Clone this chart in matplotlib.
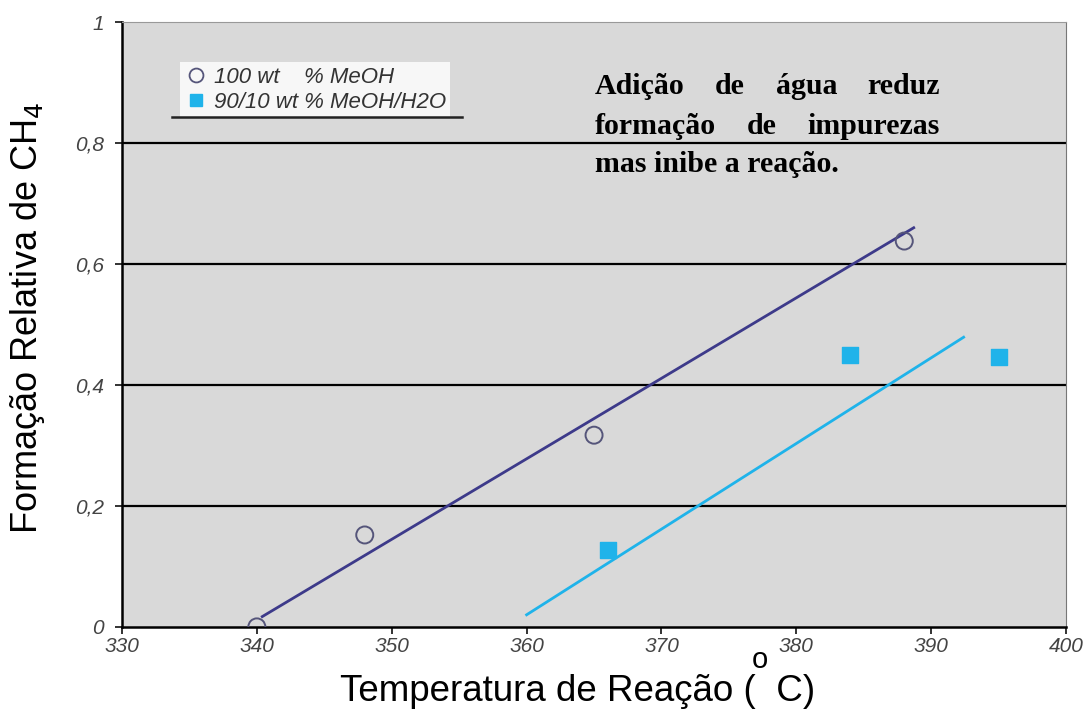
import matplotlib
matplotlib.use("Agg")
import matplotlib.pyplot as plt
from matplotlib.lines import Line2D

plt.rcParams['font.family'] = ['Liberation Sans', 'DejaVu Sans']

# data
t_meoh = [340, 348, 365, 388]
f_meoh = [0.0, 0.152, 0.317, 0.638]
t_h2o = [366, 384, 395]
f_h2o = [0.127, 0.45, 0.446]
# trend lines (end points)
fit_meoh_t = [340.4, 388.7]
fit_meoh_f = [0.017, 0.66]
fit_h2o_t = [360.0, 392.4]
fit_h2o_f = [0.02, 0.479]

xticks = [330, 340, 350, 360, 370, 380, 390, 400]
yticks = [0, 0.2, 0.4, 0.6, 0.8, 1]
ylabels = ['0', '0,2', '0,4', '0,6', '0,8', '1']

navy = '#3d3a8a'
cyan = '#1fb3ea'

fig = plt.figure(figsize=(10.89, 7.14), dpi=100)
ax = fig.add_axes([0.112, 0.122, 0.867, 0.847])
ax.set_facecolor('#d9d9d9')

for y in yticks[1:-1]:
    ax.axhline(y, color='black', lw=1.6, zorder=1)

ax.plot(fit_meoh_t, fit_meoh_f, color=navy, lw=2, zorder=2)
ax.plot(fit_h2o_t, fit_h2o_f, color=cyan, lw=2, zorder=2)
ax.scatter(t_meoh, f_meoh, s=150, facecolors='none', edgecolors='#55557a', linewidths=1.4, zorder=3)
ax.scatter(t_h2o, f_h2o, s=120, marker='s', color=cyan, zorder=3)

ax.set_xlim(330, 400)
ax.set_ylim(0, 1)
ax.set_xticks(xticks)
ax.set_yticks(yticks)
ax.set_yticklabels(ylabels)
ax.tick_params(labelsize=15, colors='#333333', length=5, width=1.4)
ax.tick_params(axis='x', pad=2)
ax.tick_params(axis='y', pad=8)
for lab in ax.get_xticklabels() + ax.get_yticklabels():
    lab.set_style('italic')
    lab.set_color('#444444')

ax.spines['left'].set_linewidth(1.8)
ax.spines['bottom'].set_linewidth(1.8)
ax.spines['right'].set_color('#777777')
ax.spines['top'].set_color('#999999')

fig.text(28 / 1089, 1 - 318 / 714, 'Formação Relativa de CH$_4$', fontsize=26,
         rotation=90, ha='center', va='center')
fig.text(0.53, 0.031, 'Temperatura de Reação (  C)', fontsize=26.5, ha='center', va='center')
fig.text(0.698, 0.075, 'o', fontsize=21, ha='center', va='center')

handles = [
    Line2D([], [], marker='o', ls='none', markersize=10, markerfacecolor='none',
           markeredgecolor='#55557a', markeredgewidth=1.3),
    Line2D([], [], marker='s', ls='none', markersize=9, color=cyan),
]
leg = ax.legend(handles, ['100 wt    % MeOH', '90/10 wt % MeOH/H2O'],
                loc='upper left', bbox_to_anchor=(0.05, 0.952), frameon=True,
                fancybox=False, handletextpad=0.3, handlelength=1.0, borderpad=0.2,
                labelspacing=0.2, prop={'style': 'italic', 'size': 16})
leg.get_frame().set_facecolor('white')
leg.get_frame().set_edgecolor('none')
for txt in leg.get_texts():
    txt.set_color('#333333')
ax.plot([0.053, 0.36], [0.843, 0.843], transform=ax.transAxes, color='#222222', lw=1.8, zorder=6)

# justified annotation
note_lines = [['Adição', 'de', 'água', 'reduz'],
              ['formação', 'de', 'impurezas'],
              ['mas', 'inibe', 'a', 'reação.']]
x0, x1 = 595, 940
ys = [87, 126, 164]
fig.canvas.draw()
r = fig.canvas.get_renderer()
fp = dict(fontsize=21.5, fontweight='bold', family='Liberation Serif', va='center')
for i, words in enumerate(note_lines):
    yf = 1 - ys[i] / 714
    if i == len(note_lines) - 1:
        fig.text(x0 / 1089, yf, ' '.join(words), ha='left', **fp)
        continue
    arts = [fig.text(0, yf, w, ha='left', **fp) for w in words]
    widths = [a.get_window_extent(r).width for a in arts]
    gap = (x1 - x0 - sum(widths)) / (len(words) - 1)
    x = x0
    for a, w in zip(arts, widths):
        a.set_x(x / 1089)
        x += w + gap

fig.savefig('out.png', dpi=100)
